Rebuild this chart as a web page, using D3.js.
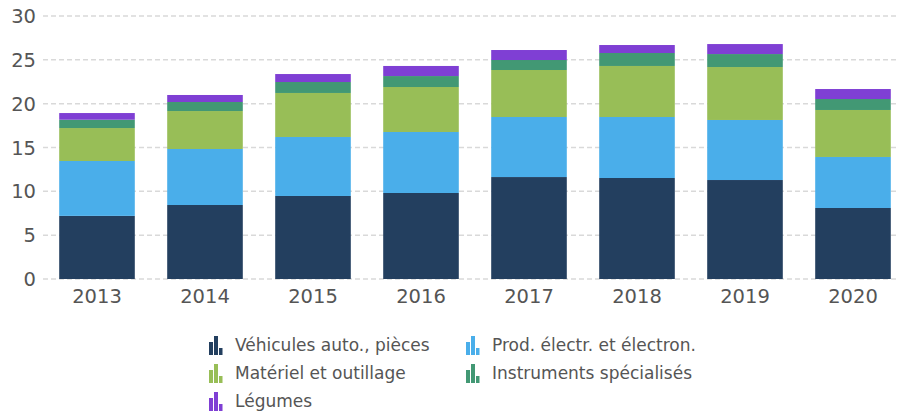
<!DOCTYPE html>
<html>
<head>
<meta charset="utf-8">
<script src="https://cdn.jsdelivr.net/npm/d3@7"></script>
<style>
  body { margin: 0; background: #fff; }
  svg { font-family: "DejaVu Sans", Verdana, sans-serif; }
</style>
</head>
<body>
<div id="chart"></div>
<script>
const years = ["2013", "2014", "2015", "2016", "2017", "2018", "2019", "2020"];
const seriesNames = ["Véhicules auto., pièces", "Prod. électr. et électron.", "Matériel et outillage", "Instruments spécialisés", "Légumes"];
const vehicules   = [7.2, 8.44, 9.47, 9.81, 11.63, 11.52, 11.29, 8.1];
const electr      = [6.26, 6.39, 6.73, 6.96, 6.85, 6.96, 6.85, 5.82];
const materiel    = [3.76, 4.33, 5.02, 5.13, 5.36, 5.82, 6.04, 5.36];
const instruments = [0.95, 1.03, 1.25, 1.25, 1.14, 1.48, 1.48, 1.25];
const legumes     = [0.76, 0.8, 0.91, 1.15, 1.14, 0.91, 1.14, 1.14];
const yTicks = [0, 5, 10, 15, 20, 25, 30];

const colors = ["#233f5f", "#4aaeea", "#98be57", "#429874", "#7f3fd4"];
const allSeries = [vehicules, electr, materiel, instruments, legumes];

const W = 898, H = 415;

// build rows for d3.stack
const rows = years.map((y, i) => {
  const r = { year: y };
  seriesNames.forEach((s, k) => r[s] = allSeries[k][i]);
  return r;
});
const stacked = d3.stack().keys(seriesNames)(rows);

const svg = d3.select("#chart").append("svg")
  .attr("width", W)
  .attr("height", H);

const x = d3.scaleBand()
  .domain(years)
  .range([43, 907])
  .paddingInner(0.3)
  .paddingOuter(0.15);

const y = d3.scaleLinear()
  .domain([0, 30])
  .range([279, 16]);

// gridlines
svg.append("g")
  .selectAll("line")
  .data(yTicks)
  .enter().append("line")
  .attr("x1", 43)
  .attr("x2", 897)
  .attr("y1", d => y(d))
  .attr("y2", d => y(d))
  .attr("stroke", "#d9d9d9")
  .attr("stroke-width", 1.5)
  .attr("stroke-dasharray", "5,3");

// y tick labels
svg.append("g")
  .selectAll("text")
  .data(yTicks)
  .enter().append("text")
  .attr("x", 36)
  .attr("y", d => y(d))
  .attr("dy", "0.36em")
  .attr("text-anchor", "end")
  .attr("fill", "#555")
  .style("font-size", "19.5px")
  .text(d => d);

// bars
svg.append("g")
  .selectAll("g")
  .data(stacked)
  .enter().append("g")
  .attr("fill", (d, i) => colors[i])
  .selectAll("rect")
  .data(d => d)
  .enter().append("rect")
  .attr("x", d => x(d.data.year))
  .attr("y", d => y(d[1]))
  .attr("width", x.bandwidth())
  .attr("height", d => y(d[0]) - y(d[1]));

// x labels
svg.append("g")
  .selectAll("text")
  .data(years)
  .enter().append("text")
  .attr("x", d => x(d) + x.bandwidth() / 2)
  .attr("y", 303)
  .attr("text-anchor", "middle")
  .attr("fill", "#555")
  .style("font-size", "19.5px")
  .text(d => d);

// legend
const legendPos = [[209, 345], [466, 345], [209, 373], [466, 373], [209, 401]];
const legend = svg.append("g")
  .selectAll("g")
  .data(seriesNames)
  .enter().append("g")
  .attr("transform", (d, i) => `translate(${legendPos[i][0]},${legendPos[i][1]})`);

// small bar-chart icon
const iconBars = [[0, 4, 13], [5, 4, 19], [10, 3.5, 7]];
legend.each(function(d, i) {
  d3.select(this).selectAll("rect")
    .data(iconBars)
    .enter().append("rect")
    .attr("x", b => b[0])
    .attr("y", b => 10 - b[2])
    .attr("width", b => b[1])
    .attr("height", b => b[2])
    .attr("fill", colors[i]);
});

legend.append("text")
  .attr("x", 26)
  .attr("y", 0)
  .attr("dy", "0.36em")
  .attr("fill", "#555")
  .style("font-size", "17px")
  .text(d => d);
</script>
</body>
</html>
